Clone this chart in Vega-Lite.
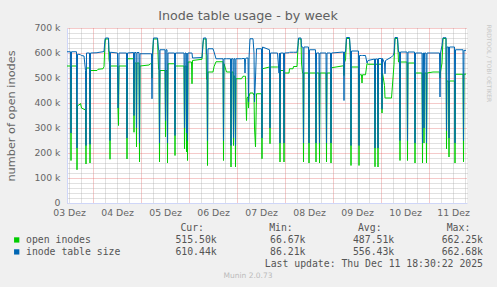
{
"$schema": "https://vega.github.io/schema/vega-lite/v6.json",
"width": 400, "height": 175,
"autosize": "none",
"padding": {"left": 67, "top": 28, "right": 30, "bottom": 84},
"background": "#F0F0F0",
"config": {"view": {"fill": "#FFFFFF", "stroke": null}, "font": "DejaVu Sans"},
"title": {"text": "Inode table usage - by week", "frame": "group", "anchor": "middle", "dx": -19, "dy": 15, "offset": 5, "baseline": "alphabetic", "font": "DejaVu Sans", "fontSize": 12.7, "fontWeight": "normal", "color": "#606060"},
"datasets": {
"series": [
{"t":"2025-12-03T11:00Z","size":605000,"open":548000},
{"t":"2025-12-03T12:45Z","size":605000,"open":548000},
{"t":"2025-12-03T13:00Z","size":280000,"open":170000},
{"t":"2025-12-03T13:15Z","size":605000,"open":548000},
{"t":"2025-12-03T15:45Z","size":605000,"open":548000},
{"t":"2025-12-03T16:00Z","size":220000,"open":133000},
{"t":"2025-12-03T16:15Z","size":595000,"open":390000},
{"t":"2025-12-03T17:00Z","size":595000,"open":392000},
{"t":"2025-12-03T17:45Z","size":593000,"open":398000},
{"t":"2025-12-03T18:15Z","size":590000,"open":380000},
{"t":"2025-12-03T19:30Z","size":588000,"open":375000},
{"t":"2025-12-03T20:15Z","size":530000,"open":372000},
{"t":"2025-12-03T20:30Z","size":230000,"open":156000},
{"t":"2025-12-03T20:45Z","size":600000,"open":540000},
{"t":"2025-12-03T22:15Z","size":600000,"open":540000},
{"t":"2025-12-03T22:30Z","size":235000,"open":160000},
{"t":"2025-12-03T22:45Z","size":600000,"open":530000},
{"t":"2025-12-04T02:00Z","size":601000,"open":530000},
{"t":"2025-12-04T02:30Z","size":602000,"open":535000},
{"t":"2025-12-04T05:00Z","size":605000,"open":537000},
{"t":"2025-12-04T05:30Z","size":606000,"open":545000},
{"t":"2025-12-04T06:00Z","size":655000,"open":640000},
{"t":"2025-12-04T06:15Z","size":660000,"open":656000},
{"t":"2025-12-04T07:45Z","size":660000,"open":656000},
{"t":"2025-12-04T08:00Z","size":605000,"open":575000},
{"t":"2025-12-04T08:15Z","size":605000,"open":560000},
{"t":"2025-12-04T08:30Z","size":250000,"open":175000},
{"t":"2025-12-04T08:45Z","size":603000,"open":548000},
{"t":"2025-12-04T12:15Z","size":600000,"open":548000},
{"t":"2025-12-04T12:30Z","size":380000,"open":380000},
{"t":"2025-12-04T12:45Z","size":430000,"open":310000},
{"t":"2025-12-04T13:00Z","size":600000,"open":548000},
{"t":"2025-12-04T16:45Z","size":600000,"open":548000},
{"t":"2025-12-04T17:00Z","size":260000,"open":176000},
{"t":"2025-12-04T17:15Z","size":600000,"open":577000},
{"t":"2025-12-04T20:15Z","size":602000,"open":577000},
{"t":"2025-12-04T20:30Z","size":350000,"open":283000},
{"t":"2025-12-04T20:45Z","size":602000,"open":560000},
{"t":"2025-12-04T21:30Z","size":602000,"open":560000},
{"t":"2025-12-04T21:45Z","size":300000,"open":224000},
{"t":"2025-12-04T22:00Z","size":602000,"open":560000},
{"t":"2025-12-04T23:00Z","size":602000,"open":560000},
{"t":"2025-12-04T23:15Z","size":240000,"open":164000},
{"t":"2025-12-04T23:30Z","size":597000,"open":548000},
{"t":"2025-12-05T04:00Z","size":597000,"open":552000},
{"t":"2025-12-05T04:45Z","size":597000,"open":557000},
{"t":"2025-12-05T05:15Z","size":597000,"open":557000},
{"t":"2025-12-05T05:30Z","size":417000,"open":500000},
{"t":"2025-12-05T05:45Z","size":600000,"open":580000},
{"t":"2025-12-05T06:15Z","size":660000,"open":656000},
{"t":"2025-12-05T08:15Z","size":660000,"open":656000},
{"t":"2025-12-05T08:45Z","size":613000,"open":540000},
{"t":"2025-12-05T09:00Z","size":613000,"open":530000},
{"t":"2025-12-05T09:15Z","size":240000,"open":164000},
{"t":"2025-12-05T09:30Z","size":613000,"open":530000},
{"t":"2025-12-05T12:00Z","size":613000,"open":530000},
{"t":"2025-12-05T12:15Z","size":330000,"open":264000},
{"t":"2025-12-05T12:30Z","size":613000,"open":530000},
{"t":"2025-12-05T13:00Z","size":613000,"open":530000},
{"t":"2025-12-05T13:15Z","size":240000,"open":160000},
{"t":"2025-12-05T13:30Z","size":600000,"open":557000},
{"t":"2025-12-05T16:45Z","size":600000,"open":557000},
{"t":"2025-12-05T17:00Z","size":270000,"open":190000},
{"t":"2025-12-05T17:15Z","size":600000,"open":548000},
{"t":"2025-12-05T21:30Z","size":600000,"open":548000},
{"t":"2025-12-05T21:45Z","size":300000,"open":217000},
{"t":"2025-12-05T22:00Z","size":600000,"open":548000},
{"t":"2025-12-05T22:30Z","size":600000,"open":548000},
{"t":"2025-12-05T22:45Z","size":280000,"open":204000},
{"t":"2025-12-05T23:00Z","size":600000,"open":548000},
{"t":"2025-12-05T23:15Z","size":250000,"open":170000},
{"t":"2025-12-05T23:30Z","size":600000,"open":564000},
{"t":"2025-12-06T01:15Z","size":600000,"open":564000},
{"t":"2025-12-06T01:30Z","size":600000,"open":477000},
{"t":"2025-12-06T01:45Z","size":580000,"open":570000},
{"t":"2025-12-06T06:30Z","size":582000,"open":575000},
{"t":"2025-12-06T07:00Z","size":640000,"open":635000},
{"t":"2025-12-06T07:15Z","size":660000,"open":656000},
{"t":"2025-12-06T08:30Z","size":660000,"open":656000},
{"t":"2025-12-06T08:45Z","size":600000,"open":495000},
{"t":"2025-12-06T09:00Z","size":590000,"open":490000},
{"t":"2025-12-06T09:15Z","size":250000,"open":150000},
{"t":"2025-12-06T09:30Z","size":617000,"open":524000},
{"t":"2025-12-06T12:00Z","size":617000,"open":524000},
{"t":"2025-12-06T12:30Z","size":605000,"open":545000},
{"t":"2025-12-06T13:30Z","size":577000,"open":565000},
{"t":"2025-12-06T17:00Z","size":577000,"open":565000},
{"t":"2025-12-06T17:15Z","size":250000,"open":170000},
{"t":"2025-12-06T17:30Z","size":577000,"open":557000},
{"t":"2025-12-06T18:45Z","size":577000,"open":524000},
{"t":"2025-12-06T20:45Z","size":577000,"open":524000},
{"t":"2025-12-06T21:00Z","size":230000,"open":144000},
{"t":"2025-12-06T21:15Z","size":577000,"open":524000},
{"t":"2025-12-06T22:00Z","size":577000,"open":524000},
{"t":"2025-12-06T22:15Z","size":260000,"open":230000},
{"t":"2025-12-06T22:30Z","size":577000,"open":510000},
{"t":"2025-12-06T23:00Z","size":577000,"open":500000},
{"t":"2025-12-06T23:15Z","size":230000,"open":144000},
{"t":"2025-12-06T23:30Z","size":577000,"open":497000},
{"t":"2025-12-07T02:15Z","size":577000,"open":497000},
{"t":"2025-12-07T03:00Z","size":578000,"open":507000},
{"t":"2025-12-07T03:45Z","size":578000,"open":507000},
{"t":"2025-12-07T04:00Z","size":520000,"open":507000},
{"t":"2025-12-07T04:15Z","size":575000,"open":507000},
{"t":"2025-12-07T04:30Z","size":580000,"open":400000},
{"t":"2025-12-07T04:45Z","size":580000,"open":330000},
{"t":"2025-12-07T05:00Z","size":580000,"open":420000},
{"t":"2025-12-07T05:30Z","size":580000,"open":425000},
{"t":"2025-12-07T05:45Z","size":404000,"open":380000},
{"t":"2025-12-07T06:00Z","size":580000,"open":425000},
{"t":"2025-12-07T06:30Z","size":657000,"open":440000},
{"t":"2025-12-07T08:00Z","size":657000,"open":440000},
{"t":"2025-12-07T08:30Z","size":600000,"open":430000},
{"t":"2025-12-07T08:45Z","size":404000,"open":300000},
{"t":"2025-12-07T09:15Z","size":500000,"open":224000},
{"t":"2025-12-07T09:45Z","size":617000,"open":437000},
{"t":"2025-12-07T12:15Z","size":617000,"open":437000},
{"t":"2025-12-07T12:30Z","size":260000,"open":177000},
{"t":"2025-12-07T12:45Z","size":624000,"open":537000},
{"t":"2025-12-07T16:15Z","size":613000,"open":544000},
{"t":"2025-12-07T16:30Z","size":300000,"open":237000},
{"t":"2025-12-07T16:45Z","size":600000,"open":544000},
{"t":"2025-12-07T20:15Z","size":600000,"open":544000},
{"t":"2025-12-07T21:00Z","size":520000,"open":544000},
{"t":"2025-12-07T21:15Z","size":600000,"open":544000},
{"t":"2025-12-07T21:30Z","size":240000,"open":164000},
{"t":"2025-12-07T21:45Z","size":600000,"open":530000},
{"t":"2025-12-07T23:15Z","size":600000,"open":530000},
{"t":"2025-12-07T23:30Z","size":240000,"open":164000},
{"t":"2025-12-07T23:45Z","size":600000,"open":520000},
{"t":"2025-12-08T02:00Z","size":601000,"open":520000},
{"t":"2025-12-08T02:15Z","size":603000,"open":537000},
{"t":"2025-12-08T04:00Z","size":603000,"open":537000},
{"t":"2025-12-08T04:15Z","size":603000,"open":546000},
{"t":"2025-12-08T06:00Z","size":603000,"open":546000},
{"t":"2025-12-08T06:30Z","size":630000,"open":625000},
{"t":"2025-12-08T06:45Z","size":660000,"open":656000},
{"t":"2025-12-08T08:00Z","size":660000,"open":656000},
{"t":"2025-12-08T08:15Z","size":624000,"open":560000},
{"t":"2025-12-08T08:45Z","size":624000,"open":520000},
{"t":"2025-12-08T09:00Z","size":624000,"open":520000},
{"t":"2025-12-08T09:15Z","size":240000,"open":164000},
{"t":"2025-12-08T09:30Z","size":624000,"open":520000},
{"t":"2025-12-08T11:45Z","size":624000,"open":520000},
{"t":"2025-12-08T12:00Z","size":240000,"open":160000},
{"t":"2025-12-08T12:15Z","size":613000,"open":520000},
{"t":"2025-12-08T15:15Z","size":613000,"open":520000},
{"t":"2025-12-08T15:30Z","size":240000,"open":164000},
{"t":"2025-12-08T15:45Z","size":600000,"open":520000},
{"t":"2025-12-08T17:00Z","size":600000,"open":520000},
{"t":"2025-12-08T17:15Z","size":240000,"open":160000},
{"t":"2025-12-08T17:30Z","size":600000,"open":520000},
{"t":"2025-12-08T20:30Z","size":600000,"open":520000},
{"t":"2025-12-08T20:45Z","size":240000,"open":164000},
{"t":"2025-12-08T21:00Z","size":600000,"open":520000},
{"t":"2025-12-08T22:45Z","size":600000,"open":520000},
{"t":"2025-12-08T23:00Z","size":240000,"open":160000},
{"t":"2025-12-08T23:15Z","size":600000,"open":541000},
{"t":"2025-12-09T05:15Z","size":604000,"open":549000},
{"t":"2025-12-09T05:30Z","size":410000,"open":510000},
{"t":"2025-12-09T05:45Z","size":604000,"open":564000},
{"t":"2025-12-09T06:15Z","size":604000,"open":570000},
{"t":"2025-12-09T06:45Z","size":662000,"open":658000},
{"t":"2025-12-09T08:15Z","size":662000,"open":658000},
{"t":"2025-12-09T08:45Z","size":610000,"open":560000},
{"t":"2025-12-09T09:00Z","size":230000,"open":150000},
{"t":"2025-12-09T09:15Z","size":608000,"open":544000},
{"t":"2025-12-09T12:45Z","size":608000,"open":544000},
{"t":"2025-12-09T13:00Z","size":230000,"open":150000},
{"t":"2025-12-09T13:15Z","size":590000,"open":513000},
{"t":"2025-12-09T14:15Z","size":590000,"open":513000},
{"t":"2025-12-09T14:30Z","size":590000,"open":480000},
{"t":"2025-12-09T14:45Z","size":590000,"open":513000},
{"t":"2025-12-09T16:15Z","size":590000,"open":513000},
{"t":"2025-12-09T17:00Z","size":560000,"open":558000},
{"t":"2025-12-09T17:30Z","size":570000,"open":555000},
{"t":"2025-12-09T20:45Z","size":576000,"open":555000},
{"t":"2025-12-09T21:00Z","size":220000,"open":145000},
{"t":"2025-12-09T21:15Z","size":576000,"open":555000},
{"t":"2025-12-09T22:15Z","size":576000,"open":555000},
{"t":"2025-12-09T22:30Z","size":220000,"open":144000},
{"t":"2025-12-09T22:45Z","size":578000,"open":555000},
{"t":"2025-12-10T00:15Z","size":578000,"open":555000},
{"t":"2025-12-10T00:30Z","size":375000,"open":360000},
{"t":"2025-12-10T00:45Z","size":578000,"open":520000},
{"t":"2025-12-10T01:45Z","size":560000,"open":470000},
{"t":"2025-12-10T02:00Z","size":517000,"open":420000},
{"t":"2025-12-10T02:15Z","size":570000,"open":420000},
{"t":"2025-12-10T05:15Z","size":584000,"open":420000},
{"t":"2025-12-10T06:00Z","size":590000,"open":500000},
{"t":"2025-12-10T06:30Z","size":600000,"open":555000},
{"t":"2025-12-10T07:00Z","size":662000,"open":658000},
{"t":"2025-12-10T08:15Z","size":662000,"open":658000},
{"t":"2025-12-10T08:45Z","size":604000,"open":564000},
{"t":"2025-12-10T09:15Z","size":604000,"open":564000},
{"t":"2025-12-10T09:30Z","size":250000,"open":170000},
{"t":"2025-12-10T09:45Z","size":604000,"open":564000},
{"t":"2025-12-10T13:00Z","size":604000,"open":564000},
{"t":"2025-12-10T13:15Z","size":250000,"open":170000},
{"t":"2025-12-10T13:30Z","size":604000,"open":560000},
{"t":"2025-12-10T16:45Z","size":604000,"open":560000},
{"t":"2025-12-10T17:00Z","size":240000,"open":160000},
{"t":"2025-12-10T17:15Z","size":600000,"open":520000},
{"t":"2025-12-10T20:30Z","size":600000,"open":520000},
{"t":"2025-12-10T20:45Z","size":240000,"open":160000},
{"t":"2025-12-10T21:00Z","size":600000,"open":520000},
{"t":"2025-12-10T21:15Z","size":600000,"open":520000},
{"t":"2025-12-10T21:30Z","size":300000,"open":240000},
{"t":"2025-12-10T21:45Z","size":600000,"open":520000},
{"t":"2025-12-10T22:30Z","size":600000,"open":520000},
{"t":"2025-12-10T22:45Z","size":240000,"open":160000},
{"t":"2025-12-10T23:00Z","size":600000,"open":520000},
{"t":"2025-12-11T02:00Z","size":600000,"open":524000},
{"t":"2025-12-11T05:15Z","size":600000,"open":524000},
{"t":"2025-12-11T05:30Z","size":424000,"open":500000},
{"t":"2025-12-11T05:45Z","size":600000,"open":524000},
{"t":"2025-12-11T06:30Z","size":630000,"open":560000},
{"t":"2025-12-11T07:00Z","size":661000,"open":658000},
{"t":"2025-12-11T08:30Z","size":661000,"open":658000},
{"t":"2025-12-11T08:45Z","size":290000,"open":217000},
{"t":"2025-12-11T09:00Z","size":624000,"open":488000},
{"t":"2025-12-11T09:45Z","size":624000,"open":488000},
{"t":"2025-12-11T10:00Z","size":260000,"open":184000},
{"t":"2025-12-11T10:15Z","size":624000,"open":488000},
{"t":"2025-12-11T12:45Z","size":624000,"open":488000},
{"t":"2025-12-11T13:00Z","size":240000,"open":160000},
{"t":"2025-12-11T13:15Z","size":613000,"open":515000},
{"t":"2025-12-11T17:00Z","size":613000,"open":515000},
{"t":"2025-12-11T17:15Z","size":250000,"open":165000},
{"t":"2025-12-11T17:30Z","size":610440,"open":515500},
{"t":"2025-12-11T18:30Z","size":610440,"open":515500}
],
"legend": [
{"row":"head","col":"cur","text":"Cur:"},
{"row":"head","col":"min","text":"Min:"},
{"row":"head","col":"avg","text":"Avg:"},
{"row":"head","col":"max","text":"Max:"},
{"row":"open","col":"label","text":"open inodes"},
{"row":"open","col":"cur","text":"515.50k"},
{"row":"open","col":"min","text":"66.67k"},
{"row":"open","col":"avg","text":"487.51k"},
{"row":"open","col":"max","text":"662.25k"},
{"row":"size","col":"label","text":"inode table size"},
{"row":"size","col":"cur","text":"610.44k"},
{"row":"size","col":"min","text":"86.21k"},
{"row":"size","col":"avg","text":"556.43k"},
{"row":"size","col":"max","text":"662.68k"},
{"row":"update","col":"max","text":"Last update: Thu Dec 11 18:30:22 2025"},
{"row":"munin","col":"center","text":"Munin 2.0.73"}
]
},
"layer": [
{
"data": {"name": "series"},
"layer": [
{
"mark": {"type": "line", "color": "#00CC00", "strokeWidth": 1},
"encoding": {
"x": {"field": "t", "type": "temporal",
 "scale": {"type": "utc", "domain": [{"year":2025,"month":12,"date":3,"hours":11,"utc":true},{"year":2025,"month":12,"date":11,"hours":19,"utc":true}]},
 "axis": {"orient": "bottom", "title": null,
  "values": [
   {"year":2025,"month":12,"date":3,"hours":12,"utc":true},{"year":2025,"month":12,"date":3,"hours":18,"utc":true},
   {"year":2025,"month":12,"date":4,"hours":6,"utc":true},{"year":2025,"month":12,"date":4,"hours":12,"utc":true},{"year":2025,"month":12,"date":4,"hours":18,"utc":true},
   {"year":2025,"month":12,"date":5,"hours":6,"utc":true},{"year":2025,"month":12,"date":5,"hours":12,"utc":true},{"year":2025,"month":12,"date":5,"hours":18,"utc":true},
   {"year":2025,"month":12,"date":6,"hours":6,"utc":true},{"year":2025,"month":12,"date":6,"hours":12,"utc":true},{"year":2025,"month":12,"date":6,"hours":18,"utc":true},
   {"year":2025,"month":12,"date":7,"hours":6,"utc":true},{"year":2025,"month":12,"date":7,"hours":12,"utc":true},{"year":2025,"month":12,"date":7,"hours":18,"utc":true},
   {"year":2025,"month":12,"date":8,"hours":6,"utc":true},{"year":2025,"month":12,"date":8,"hours":12,"utc":true},{"year":2025,"month":12,"date":8,"hours":18,"utc":true},
   {"year":2025,"month":12,"date":9,"hours":6,"utc":true},{"year":2025,"month":12,"date":9,"hours":12,"utc":true},{"year":2025,"month":12,"date":9,"hours":18,"utc":true},
   {"year":2025,"month":12,"date":10,"hours":6,"utc":true},{"year":2025,"month":12,"date":10,"hours":12,"utc":true},{"year":2025,"month":12,"date":10,"hours":18,"utc":true},
   {"year":2025,"month":12,"date":11,"hours":6,"utc":true},{"year":2025,"month":12,"date":11,"hours":12,"utc":true},{"year":2025,"month":12,"date":11,"hours":18,"utc":true}
  ],
  "labelExpr": "utchours(datum.value) == 12 ? utcFormat(datum.value, '%d') + ' Dez' : ''",
  "grid": true, "gridColor": "#A8A8A8", "gridOpacity": 0.7, "gridDash": [1, 1], "gridWidth": 1,
  "ticks": false, "tickSize": 0, "domain": true, "domainColor": "#CFD6F8", "domainWidth": 1,
  "labelFont": "DejaVu Sans", "labelFontSize": 9.3, "labelColor": "#666666", "labelPadding": 9, "labelBaseline": "middle", "labelFlush": false, "labelOverlap": false}},
"y": {"field": "open", "type": "quantitative",
 "scale": {"domain": [0, 700000], "nice": false},
 "axis": {"orient": "right",
  "values": [20000,40000,60000,80000,120000,140000,160000,180000,220000,240000,260000,280000,320000,340000,360000,380000,420000,440000,460000,480000,520000,540000,560000,580000,620000,640000,660000,680000],
  "grid": true, "gridColor": "#A8A8A8", "gridOpacity": 0.7, "gridDash": [1, 1], "gridWidth": 1,
  "labels": false, "ticks": false, "domain": false,
  "title": "RRDTOOL / TOBI OETIKER", "titleAngle": 90, "titleX": 21.5, "titleY": 35, "titleAlign": "center", "titleBaseline": "middle", "titleColor": "#C8C8C8", "titleFont": "DejaVu Sans", "titleFontSize": 6, "titleFontWeight": "normal"}}
}
},
{
"mark": {"type": "line", "color": "#0066B3", "strokeWidth": 1},
"encoding": {
"x": {"field": "t", "type": "temporal",
 "scale": {"type": "utc", "domain": [{"year":2025,"month":12,"date":3,"hours":11,"utc":true},{"year":2025,"month":12,"date":11,"hours":19,"utc":true}]},
 "axis": {"orient": "top", "title": null,
  "values": [
   {"year":2025,"month":12,"date":4,"hours":0,"utc":true},{"year":2025,"month":12,"date":5,"hours":0,"utc":true},
   {"year":2025,"month":12,"date":6,"hours":0,"utc":true},{"year":2025,"month":12,"date":7,"hours":0,"utc":true},
   {"year":2025,"month":12,"date":8,"hours":0,"utc":true},{"year":2025,"month":12,"date":9,"hours":0,"utc":true},
   {"year":2025,"month":12,"date":10,"hours":0,"utc":true},{"year":2025,"month":12,"date":11,"hours":0,"utc":true}
  ],
  "grid": true, "gridColor": "#DE4F4F", "gridOpacity": 0.6, "gridDash": [1, 1], "gridWidth": 1,
  "labels": false, "ticks": false, "domain": false}},
"y": {"field": "size", "type": "quantitative",
 "scale": {"domain": [0, 700000], "nice": false},
 "axis": {"orient": "left",
  "values": [0,100000,200000,300000,400000,500000,600000,700000],
  "labelExpr": "datum.value == 0 ? '0\u2002\u2009' : format(datum.value / 1000, 'd') + ' k'",
  "grid": true, "gridColor": "#DE4F4F", "gridOpacity": 0.6, "gridDash": [1, 1], "gridWidth": 1,
  "ticks": false, "tickSize": 0, "domain": true, "domainColor": "#CFD6F8", "domainWidth": 1,
  "labelFont": "DejaVu Sans", "labelFontSize": 9.3, "labelColor": "#666666", "labelPadding": 7, "labelOffset": -1,
  "title": "number of open inodes", "titleFont": "DejaVu Sans", "titleFontSize": 11.3, "titleFontWeight": "normal", "titleColor": "#666666",
  "titleAngle": -90, "titleX": -56, "titleY": 87.5, "titleAlign": "center", "titleBaseline": "middle"}}
}
}
],
"resolve": {"axis": {"x": "independent", "y": "independent"}}
},
{
"data": {"name": "legend"},
"layer": [
{
"transform": [{"filter": "datum.row == 'head'"}],
"mark": {"type": "text", "align": "right", "baseline": "middle", "dx": -12.7, "font": "DejaVu Sans Mono", "fontSize": 9.8, "color": "#555555"},
"encoding": {
"x": {"field": "col", "type": "nominal", "scale": {"type": "point", "domain": ["cur","min","avg","max"], "range": [149.7, 416], "padding": 0}, "axis": null},
"y": {"field": "row", "type": "nominal", "scale": {"type": "point", "domain": ["head","open","size","update","munin"], "range": [200, 247.8], "padding": 0}, "axis": null},
"text": {"field": "text"}
}
},
{
"transform": [{"filter": "datum.row != 'head' && datum.row != 'munin' && datum.col != 'label'"}],
"mark": {"type": "text", "align": "right", "baseline": "middle", "font": "DejaVu Sans Mono", "fontSize": 9.8, "color": "#555555"},
"encoding": {
"x": {"field": "col", "type": "nominal", "scale": {"type": "point", "domain": ["cur","min","avg","max"], "range": [149.7, 416], "padding": 0}, "axis": null},
"y": {"field": "row", "type": "nominal", "scale": {"type": "point", "domain": ["head","open","size","update","munin"], "range": [200, 247.8], "padding": 0}, "axis": null},
"text": {"field": "text"}
}
},
{
"transform": [{"filter": "datum.col == 'label'"}],
"mark": {"type": "text", "align": "left", "baseline": "middle", "font": "DejaVu Sans Mono", "fontSize": 9.8, "color": "#555555"},
"encoding": {
"x": {"field": "col", "type": "nominal", "scale": {"type": "point", "domain": ["label"], "range": [-41, -41], "padding": 0}, "axis": null},
"y": {"field": "row", "type": "nominal", "scale": {"type": "point", "domain": ["head","open","size","update","munin"], "range": [200, 247.8], "padding": 0}, "axis": null},
"text": {"field": "text"}
}
},
{
"transform": [{"filter": "datum.col == 'label'"}],
"mark": {"type": "square", "filled": true, "size": 28, "opacity": 1},
"encoding": {
"x": {"field": "col", "type": "nominal", "scale": {"type": "point", "domain": ["label"], "range": [-50.3, -50.3], "padding": 0}, "axis": null},
"y": {"field": "row", "type": "nominal", "scale": {"type": "point", "domain": ["head","open","size","update","munin"], "range": [200, 247.8], "padding": 0}, "axis": null},
"color": {"field": "text", "type": "nominal", "scale": {"domain": ["open inodes","inode table size"], "range": ["#00CC00","#0066B3"]}, "legend": null}
}
},
{
"transform": [{"filter": "datum.row == 'munin'"}],
"mark": {"type": "text", "align": "center", "baseline": "middle", "font": "DejaVu Sans", "fontSize": 7.5, "color": "#BBBBBB"},
"encoding": {
"x": {"field": "col", "type": "nominal", "scale": {"type": "point", "domain": ["center"], "range": [181, 181], "padding": 0}, "axis": null},
"y": {"field": "row", "type": "nominal", "scale": {"type": "point", "domain": ["head","open","size","update","munin"], "range": [200, 247.8], "padding": 0}, "axis": null},
"text": {"field": "text"}
}
}
],
"resolve": {"scale": {"x": "independent"}}
}
],
"resolve": {"scale": {"x": "independent", "y": "independent", "color": "independent"}}
}
